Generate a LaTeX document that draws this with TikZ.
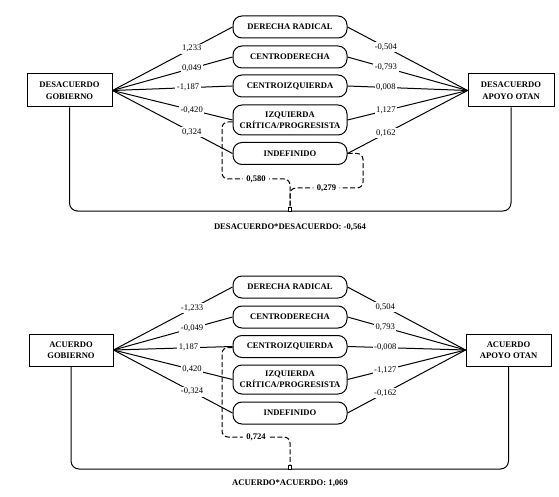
\documentclass[tikz,border=0pt]{standalone}
\usepackage{fontspec}
\setmainfont{Liberation Serif}
\begin{document}
\begin{tikzpicture}[x=1pt,y=-1pt,
  ln/.style={line width=1pt},
  box/.style={draw, line width=1pt, minimum width=85pt, minimum height=33pt, inner sep=0pt, align=center, font=\fontsize{8.6}{11.5}\selectfont\bfseries},
  cat/.style={draw, line width=1pt, rounded corners=9pt, minimum width=114pt, minimum height=22pt, inner sep=0pt, align=center, font=\fontsize{8.6}{11}\selectfont\bfseries},
  lab/.style={fill=white, inner sep=1.5pt, font=\fontsize{8.6}{10}\selectfont},
  dsh/.style={line width=1pt, dash pattern=on 5pt off 2.5pt, rounded corners=6pt},
  blab/.style={fill=white, inner xsep=3.5pt, inner ysep=1.8pt, font=\fontsize{8.6}{10}\selectfont\bfseries},
  mk/.style={draw, fill=white, line width=0.8pt, minimum width=3.5pt, minimum height=4pt, inner sep=0pt},
  ttl/.style={font=\fontsize{8.6}{10}\selectfont\bfseries, inner sep=0pt}
]
\useasboundingbox (0,0) rectangle (559,497);

% ---------- top diagram ----------
\node[box] (lg1) at (69.5,90.5) {DESACUERDO\\GOBIERNO};
\node[box, minimum width=86pt] (rg1) at (511,90.5) {DESACUERDO\\APOYO OTAN};
\node[cat] (a1) at (290,27) {DERECHA RADICAL};
\node[cat] (a2) at (290,57) {CENTRODERECHA};
\node[cat] (a3) at (290,86) {CENTROIZQUIERDA};
\node[cat, minimum height=30pt] (a4) at (290,120) {IZQUIERDA\\CRÍTICA/PROGRESISTA};
\node[cat] (a5) at (290,153.5) {INDEFINIDO};

\draw[ln] (lg1.east) -- node[lab,pos=0.66]{1,233} (a1.west);
\draw[ln] (lg1.east) -- node[lab,pos=0.66]{0,049} (a2.west);
\draw[ln] (lg1.east) -- node[lab,pos=0.63]{-1,187} (a3.west);
\draw[ln] (lg1.east) -- node[lab,pos=0.66]{-0,420} (a4.west);
\draw[ln] (lg1.east) -- node[lab,pos=0.66]{0,324} (a5.west);

\draw[ln] (a1.east) -- node[lab,pos=0.32]{-0,504} (rg1.west);
\draw[ln] (a2.east) -- node[lab,pos=0.32]{-0,793} (rg1.west);
\draw[ln] (a3.east) -- node[lab,pos=0.32]{0,008} (rg1.west);
\draw[ln] (a4.east) -- node[lab,pos=0.32]{1,127} (rg1.west);
\draw[ln] (a5.east) -- node[lab,pos=0.32]{0,162} (rg1.west);

\coordinate (c1) at (290,211);
\draw[ln, rounded corners=8pt] (lg1.south) |- (c1) -| (rg1.south);
\node[mk] (k1) at (290,209.5) {};
\draw[dsh] ([yshift=-2pt]a4.west) -- (222,122) -- (222,179) -| node[blab,pos=0.25]{0,580} (k1.north);
\draw[dsh] (a5.east) -- (363,153.5) -- (363,188) -| node[blab,pos=0.25]{0,279} (k1.north);
\node[ttl] (t1) at (290,227) {DESACUERDO*DESACUERDO: -0,564};

% ---------- bottom diagram ----------
\node[box, minimum width=84pt, minimum height=32pt] (lg2) at (71,350) {ACUERDO\\GOBIERNO};
\node[box, minimum width=85pt, minimum height=32pt] (rg2) at (508.5,350) {ACUERDO\\APOYO OTAN};
\node[cat] (b1) at (290,287) {DERECHA RADICAL};
\node[cat] (b2) at (290,317) {CENTRODERECHA};
\node[cat] (b3) at (290,346.5) {CENTROIZQUIERDA};
\node[cat, minimum height=29pt] (b4) at (290,379.5) {IZQUIERDA\\CRÍTICA/PROGRESISTA};
\node[cat] (b5) at (290,413) {INDEFINIDO};

\draw[ln] (lg2.east) -- node[lab,pos=0.66]{-1,233} (b1.west);
\draw[ln] (lg2.east) -- node[lab,pos=0.66]{-0,049} (b2.west);
\draw[ln] (lg2.east) -- node[lab,pos=0.63]{1,187} (b3.west);
\draw[ln] (lg2.east) -- node[lab,pos=0.66]{0,420} (b4.west);
\draw[ln] (lg2.east) -- node[lab,pos=0.66]{-0,324} (b5.west);

\draw[ln] (b1.east) -- node[lab,pos=0.32]{0,504} (rg2.west);
\draw[ln] (b2.east) -- node[lab,pos=0.32]{0,793} (rg2.west);
\draw[ln] (b3.east) -- node[lab,pos=0.32]{-0,008} (rg2.west);
\draw[ln] (b4.east) -- node[lab,pos=0.32]{-1,127} (rg2.west);
\draw[ln] (b5.east) -- node[lab,pos=0.32]{-0,162} (rg2.west);

\coordinate (c2) at (290,469);
\draw[ln, rounded corners=8pt] (lg2.south) |- (c2) -| (rg2.south);
\node[mk] (k2) at (290,467.5) {};
\draw[dsh] ([yshift=-1pt]b3.west) -- (222,347.5) -- (222,437) -| node[blab,pos=0.25]{0,724} (k2.north);
\node[ttl] (t2) at (290,483) {ACUERDO*ACUERDO: 1,069};
\end{tikzpicture}
\end{document}
